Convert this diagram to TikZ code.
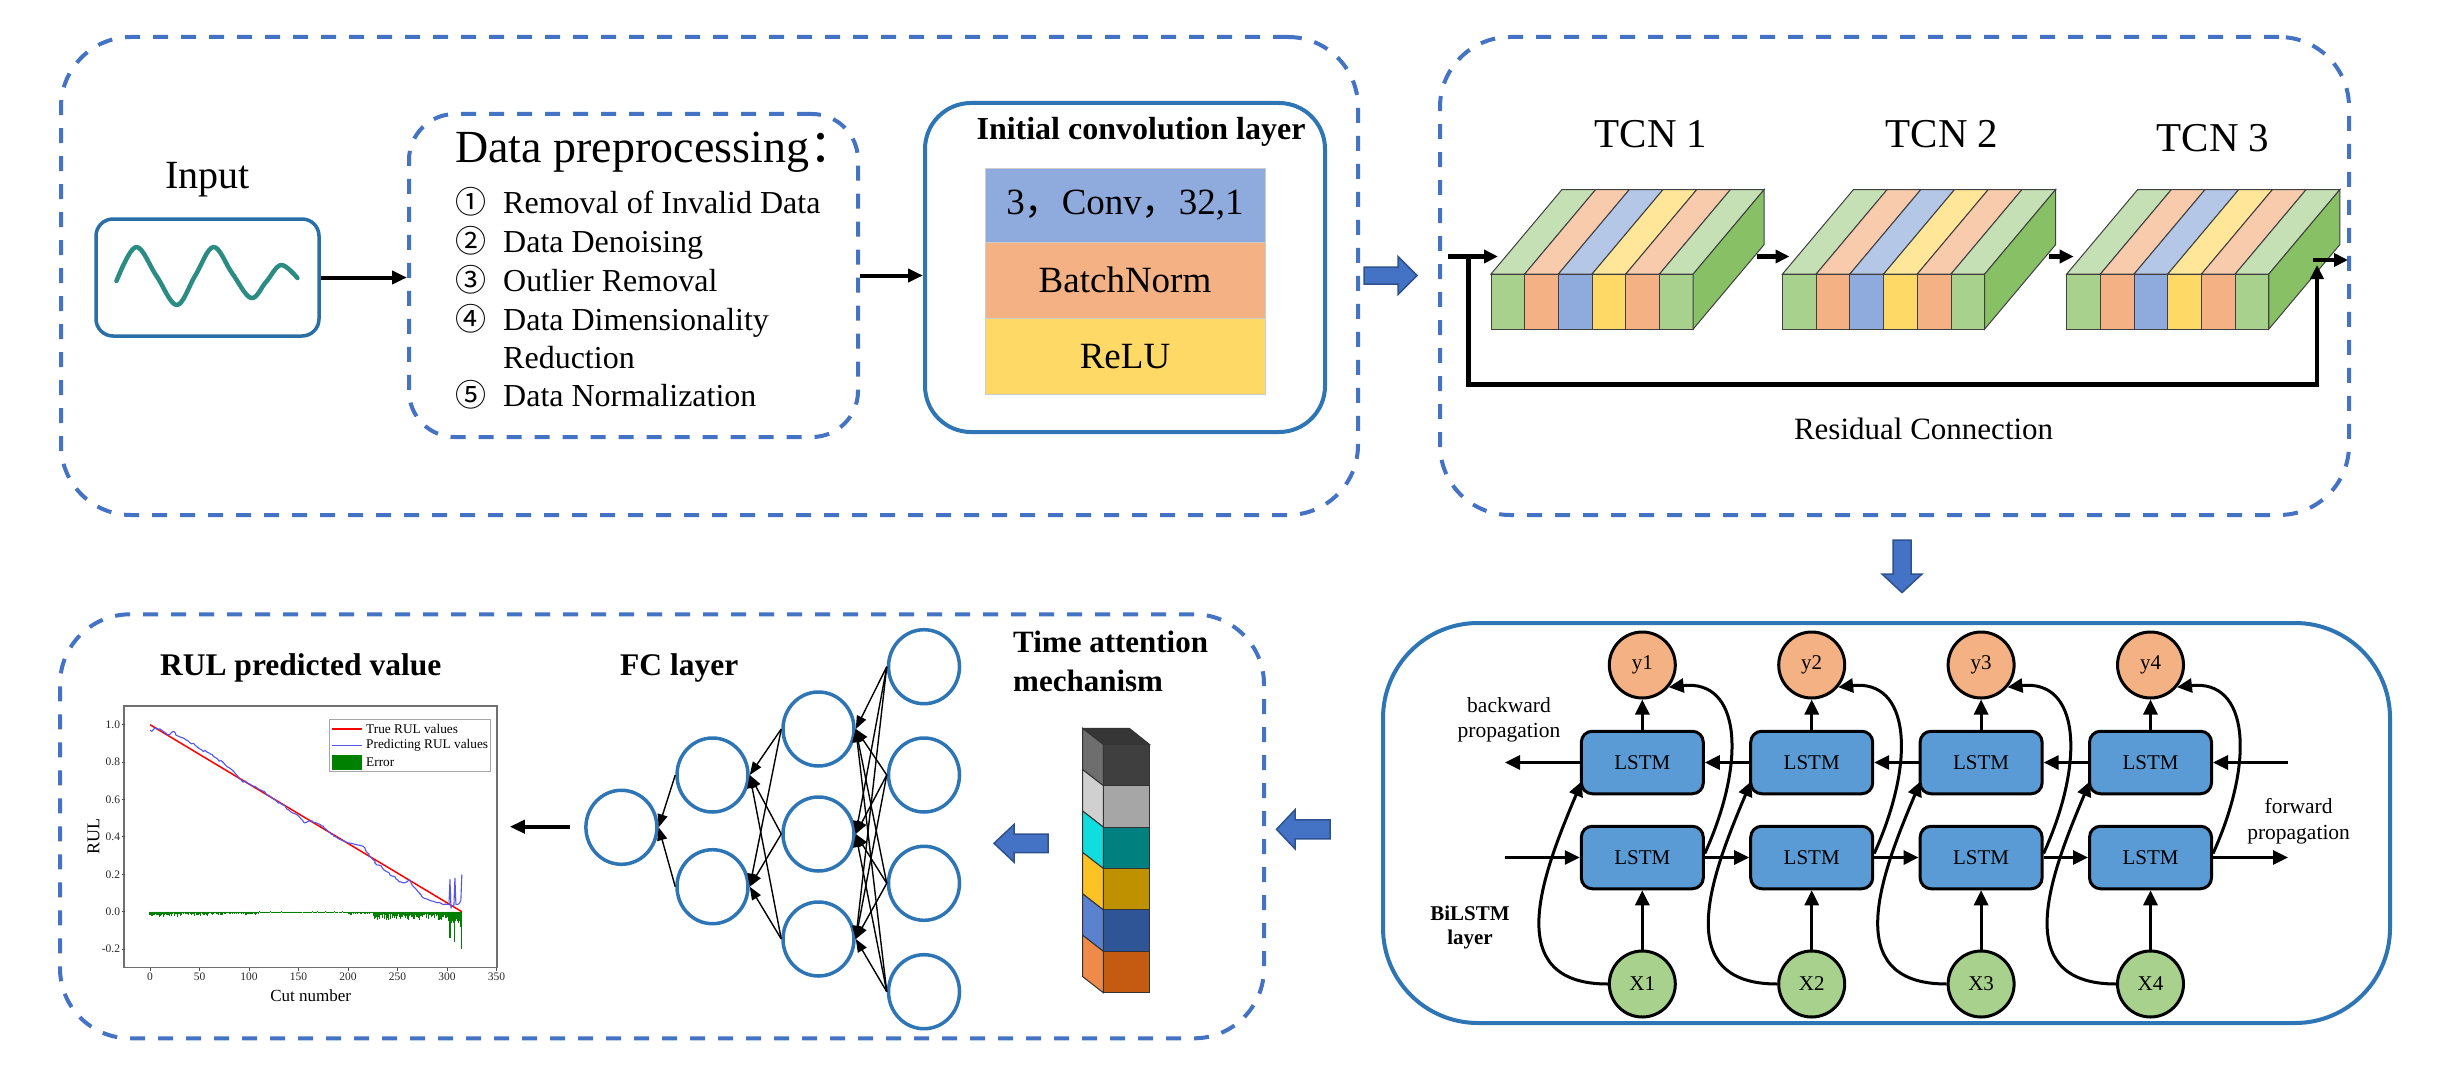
\documentclass[tikz,border=0pt]{standalone}
\usepackage{fontspec}
\setmainfont{Liberation Serif}
\newfontfamily\cjkfont{Noto Sans CJK SC}
\usetikzlibrary{arrows.meta,shapes.geometric,calc,decorations.pathmorphing}
\definecolor{dashblue}{HTML}{4472C4}
\definecolor{boxblue}{HTML}{2E75B6}
\definecolor{inpblue}{HTML}{2A6EA6}
\definecolor{wavecol}{HTML}{2A8C82}
\definecolor{blockfill}{HTML}{4472C4}
\definecolor{blockdraw}{HTML}{2F528F}
\definecolor{convblue}{HTML}{8FAADC}
\definecolor{convorange}{HTML}{F4B183}
\definecolor{convyellow}{HTML}{FFD966}
\definecolor{fgreen}{HTML}{A9D18E}
\definecolor{forange}{HTML}{F4B183}
\definecolor{fblue}{HTML}{8FAADC}
\definecolor{fyellow}{HTML}{FFD966}
\definecolor{tgreen}{HTML}{C5E0B4}
\definecolor{torange}{HTML}{F8CBAD}
\definecolor{tblue}{HTML}{B4C7E7}
\definecolor{tyellow}{HTML}{FFE699}
\definecolor{sgreen}{HTML}{88C065}
\definecolor{lstmblue}{HTML}{5B9BD5}
\definecolor{yorange}{HTML}{F4B183}
\definecolor{xgreen}{HTML}{A9D18E}
\definecolor{taAf}{HTML}{3F3F3F}
\definecolor{taAs}{HTML}{6E6E6E}
\definecolor{taBf}{HTML}{A6A6A6}
\definecolor{taBs}{HTML}{D0D0D0}
\definecolor{taCf}{HTML}{00807E}
\definecolor{taCs}{HTML}{10DEDE}
\definecolor{taDf}{HTML}{BF9000}
\definecolor{taDs}{HTML}{FDC324}
\definecolor{taEf}{HTML}{2F5597}
\definecolor{taEs}{HTML}{5B82D0}
\definecolor{taFf}{HTML}{C55A11}
\definecolor{taFs}{HTML}{F08A48}
\definecolor{tatop}{HTML}{363636}
\definecolor{predblue}{HTML}{5555EE}
\definecolor{errgreen}{HTML}{008000}
\definecolor{plotgray}{HTML}{707070}
\definecolor{edgegray}{HTML}{404040}
\newcommand{\fsz}[1]{\fontsize{#1}{#1}\selectfont}
\newcommand{\tcnblock}[2]{%
  \foreach \i/\cf/\ct in {0/fgreen/tgreen,1/forange/torange,2/fblue/tblue,3/fyellow/tyellow,4/forange/torange,5/fgreen/tgreen}{
    \filldraw[fill=\ct, draw=edgegray, line width=1pt] ({#1+\i*33.7},274) -- ++(33.7,0) -- ++(71,-84.5) -- ++(-33.7,0) -- cycle;
    \filldraw[fill=\cf, draw=edgegray, line width=1pt] ({#1+\i*33.7},274) rectangle ++(33.7,55);
  }
  \filldraw[fill=sgreen, draw=edgegray, line width=1pt] ({#1+202.2},274) -- ++(71,-84.5) -- ++(0,55) -- ++(-71,84.5) -- cycle;
  \coordinate (#2w) at ({#1+7},256.5);
  \coordinate (#2e) at ({#1+266},256.5);
}
\begin{document}
\begin{tikzpicture}[x=1pt,y=-1pt,
  txt/.style={inner sep=0pt},
  dashbox/.style={draw=dashblue, line width=4pt, dash pattern=on 15pt off 13pt},
  arr/.style={-{Triangle[length=15pt,width=13pt]}, line width=4pt},
  tarr/.style={-{Triangle[length=14pt,width=13pt]}, line width=4.5pt},
  larr/.style={-{Triangle[length=15pt,width=14pt]}, line width=3pt},
  fcarr/.style={-{Triangle[length=13pt,width=10pt]}, line width=1.4pt},
  blk/.style={fill=blockfill, draw=blockdraw, line width=1.5pt},
  lstm/.style={rectangle, rounded corners=11pt, fill=lstmblue, draw=black, line width=3pt, minimum width=122pt, minimum height=62.5pt, inner sep=0pt, font=\fsz{21}},
  ycirc/.style={circle, fill=yorange, draw=black, line width=3pt, minimum size=66pt, inner sep=0pt, font=\fsz{21}},
  xcirc/.style={ycirc, fill=xgreen},
  fcn/.style={ellipse, draw=boxblue, line width=3.5pt, minimum width=71pt, minimum height=74pt, inner sep=0pt},
  layer/.style={draw=black!20, line width=1pt, minimum width=280pt, inner sep=0pt, font=\fsz{37}},
  ]
\fill[white] (0,0) rectangle (2443,1089);
\useasboundingbox (0,0) rectangle (2443,1089);

% ---------------- Top-left panel ----------------
\node[dashbox, rounded corners=70pt, minimum width=1297pt, minimum height=478pt] (boxA) at (709.5,276) {};
\node[txt, anchor=base, font=\fsz{40}] (inlabel) at (207.8,188.7) {Input};
\node[draw=inpblue, line width=3.5pt, rounded corners=17pt, minimum width=223pt, minimum height=117pt] (inp) at (207.5,277.5) {};
\draw[wavecol, line width=4.5pt, line cap=round, line join=round] plot[smooth, tension=0.6] coordinates {(116.5,281) (136,247) (156.5,276) (176.8,305) (195,276) (213.5,247) (232,273) (251,298) (266,282) (281,265) (297.4,278)};

\node[dashbox, rounded corners=46pt, minimum width=449pt, minimum height=323pt] (prep) at (633.5,275.5) {};
\node[txt, anchor=base west, font=\fsz{46}] (preptitle) at (455,162) {Data preprocessing{\cjkfont ：}};
\node[txt, anchor=base, font=\fsz{31}\cjkfont] (n1) at (471,213) {①};
\node[txt, anchor=base west, font=\fsz{32}] (t1) at (503,213) {Removal of Invalid Data};
\node[txt, anchor=base, font=\fsz{31}\cjkfont] (n2) at (471,252) {②};
\node[txt, anchor=base west, font=\fsz{32}] (t2) at (503,252) {Data Denoising};
\node[txt, anchor=base, font=\fsz{31}\cjkfont] (n3) at (471,291) {③};
\node[txt, anchor=base west, font=\fsz{32}] (t3) at (503,291) {Outlier Removal};
\node[txt, anchor=base, font=\fsz{31}\cjkfont] (n4) at (471,330) {④};
\node[txt, anchor=base west, font=\fsz{32}] (t4) at (503,330) {Data Dimensionality};
\node[txt, anchor=base west, font=\fsz{32}] (t4b) at (503,368) {Reduction};
\node[txt, anchor=base, font=\fsz{31}\cjkfont] (n5) at (471,406) {⑤};
\node[txt, anchor=base west, font=\fsz{32}] (t5) at (503,406) {Data Normalization};

\node[draw=boxblue, line width=4pt, rounded corners=46pt, minimum width=400pt, minimum height=329pt] (conv) at (1125,267.5) {};
\node[txt, anchor=base, font=\fsz{32}\bfseries] (convtitle) at (1141,139.5) {Initial convolution layer};
\node[layer, fill=convblue, minimum height=74pt] (c1) at (1125,205) {3{\cjkfont ，}Conv{\cjkfont ，}32,1};
\node[layer, fill=convorange, minimum height=76.5pt] (c2) at (1125,280.25) {BatchNorm};
\node[layer, fill=convyellow, minimum height=75.5pt] (c3) at (1125,356.25) {ReLU};

\draw[arr] (inp.east) -- (inp.east -| prep.west);
\draw[arr] (prep.east) -- (prep.east -| conv.west);

\filldraw[blk] (1364,267) -- (1398,267) -- (1398,256.5) -- (1417,275.5) -- (1398,294.5) -- (1398,284) -- (1364,284) -- cycle;

% ---------------- TCN panel ----------------
\node[dashbox, rounded corners=70pt, minimum width=909pt, minimum height=478pt] (boxB) at (1894.5,276) {};
\node[txt, anchor=base, font=\fsz{41}] (tcn1) at (1651,147) {TCN 1};
\node[txt, anchor=base, font=\fsz{41}] (tcn2) at (1942,147) {TCN 2};
\node[txt, anchor=base, font=\fsz{41}] (tcn3) at (2213,151.5) {TCN 3};
\tcnblock{1491}{ba}
\tcnblock{1782.5}{bb}
\tcnblock{2066.7}{bc}
\coordinate (tin) at (1448,256.5);
\coordinate (rj) at (1468.5,256.5);
\coordinate (rb) at (1468.5,384.6);
\coordinate (rend) at (2317,265);
\coordinate (tout0) at (2313,260);
\coordinate (tout) at (2348,260);
\draw[tarr] (tin) -- (baw);
\draw[tarr] (bae) -- (bbw);
\draw[tarr] (bbe) -- (bcw);
\draw[tarr] (tout0) -- (tout);
\draw[tarr] (rj) -- (rb) -| (rend);
\node[txt, anchor=base, font=\fsz{31}] (resid) at (1923.6,439) {Residual Connection};

\filldraw[blk] (1893,540) -- (1911,540) -- (1911,574) -- (1922,574) -- (1902,592.6) -- (1882,574) -- (1893,574) -- cycle;

% ---------------- BiLSTM panel ----------------
\node[draw=boxblue, line width=4pt, rounded corners=95pt, minimum width=1007pt, minimum height=400pt] (boxD) at (1886.5,823) {};
\foreach \i in {1,2,3,4}{
  \pgfmathsetmacro\cx{1642.3+(\i-1)*169.4}
  \node[ycirc] (y\i) at (\cx,665) {y\i};
  \node[lstm] (T\i) at (\cx,762.5) {LSTM};
  \node[lstm] (B\i) at (\cx,857.5) {LSTM};
  \node[xcirc] (X\i) at (\cx,984) {X\i};
}
\foreach \i in {1,2,3,4}{
  \draw[larr] (X\i) -- (B\i);
  \draw[larr] (T\i) -- (y\i);
  \draw[larr] (X\i.west) .. controls +(-109,0) and +(-38,90) .. ($(T\i.south west)+(2,-14)$);
  \draw[larr] ($(B\i.east)+(0,-4)$) .. controls +(42,-93) and +(72,-8) .. (y\i.-40);
}
\foreach \i/\j in {1/2,2/3,3/4}{
  \draw[larr] (B\i.east) -- (B\j.west);
  \draw[larr] (T\j.west) -- (T\i.east);
}
\coordinate (fs) at (1505,857.5);
\coordinate (fe) at (2288,857.5);
\coordinate (bs) at (2288,762.5);
\coordinate (be) at (1505,762.5);
\draw[larr] (fs) -- (B1.west);
\draw[larr] (B4.east) -- (fe);
\draw[larr] (bs) -- (T4.east);
\draw[larr] (T1.west) -- (be);
\node[txt, anchor=base, font=\fsz{21.5}] (bw1) at (1509,712) {backward};
\node[txt, anchor=base, font=\fsz{21.5}] (bw2) at (1509,737.7) {propagation};
\node[txt, anchor=base, font=\fsz{21.5}] (fw1) at (2298.6,813.5) {forward};
\node[txt, anchor=base, font=\fsz{21.5}] (fw2) at (2298.6,839) {propagation};
\node[txt, anchor=base, font=\fsz{21}\bfseries] (bl1) at (1470,920) {BiLSTM};
\node[txt, anchor=base, font=\fsz{21}\bfseries] (bl2) at (1470,944.5) {layer};

\filldraw[blk] (1330,819.8) -- (1295,819.8) -- (1295,809.8) -- (1276.5,829.3) -- (1295,848.8) -- (1295,838.8) -- (1330,838.8) -- cycle;

% ---------------- Bottom-left panel ----------------
\node[dashbox, rounded corners=70pt, minimum width=1204pt, minimum height=424pt] (boxC) at (662,826.3) {};

% time attention
\node[txt, anchor=base west, font=\fsz{31}\bfseries] (ta1) at (1013,652.7) {Time attention};
\node[txt, anchor=base west, font=\fsz{31}\bfseries] (ta2) at (1013,691.7) {mechanism};
\foreach \k/\cf/\cs in {0/taAf/taAs,1/taBf/taBs,2/taCf/taCs,3/taDf/taDs,4/taEf/taEs,5/taFf/taFs}{
  \pgfmathsetmacro\ya{744.3+\k*41.4}
  \pgfmathsetmacro\yb{744.3+(\k+1)*41.4}
  \filldraw[fill=\cs, draw=black!80, line width=1pt] (1103.3,\ya) -- (1082.7,{\ya-16}) -- (1082.7,{\yb-16}) -- (1103.3,\yb) -- cycle;
  \filldraw[fill=\cf, draw=black!80, line width=1pt] (1103.3,\ya) rectangle (1149.3,\yb);
}
\filldraw[fill=tatop, draw=black!80, line width=1pt] (1103.3,744.3) -- (1082.7,728.3) -- (1129.3,728.3) -- (1149.3,744.3) -- cycle;

\filldraw[blk] (1048,834.1) -- (1014,834.1) -- (1014,824.5) -- (994,843.3) -- (1014,862.1) -- (1014,852.5) -- (1048,852.5) -- cycle;

% FC layer
\node[txt, anchor=base west, font=\fsz{31.5}\bfseries] (fctitle) at (620,675) {FC layer};
\node[fcn] (f1) at (621.4,827.3) {};
\node[fcn] (f2a) at (712.5,775) {};
\node[fcn] (f2b) at (712.5,886.7) {};
\node[fcn] (f3a) at (818.5,729) {};
\node[fcn] (f3b) at (818.5,834) {};
\node[fcn] (f3c) at (818.5,939) {};
\node[fcn] (f4a) at (924,666.7) {};
\node[fcn] (f4b) at (924,775) {};
\node[fcn] (f4c) at (924,883.3) {};
\node[fcn] (f4d) at (924,991.7) {};
\foreach \s in {f2a,f2b} \draw[fcarr] (\s.west) -- (f1.east);
\foreach \s in {f3a,f3b,f3c} {\foreach \t in {f2a,f2b} \draw[fcarr] (\s.west) -- (\t.east);}
\foreach \s in {f4a,f4b,f4c,f4d} {\foreach \t in {f3a,f3b,f3c} \draw[fcarr] (\s.west) -- (\t.east);}

% RUL plot
\node[txt, anchor=base, font=\fsz{31.5}\bfseries] (rultitle) at (300.7,675) {RUL predicted value};
\node[draw=plotgray, line width=1.5pt, minimum width=373pt, minimum height=261.7pt, inner sep=0pt] (pf) at (310.5,836.85) {};
\begin{scope}[shift={(150,911.7)}, x=0.99pt, y=187pt]
  \pgfmathsetseed{7}
  \foreach \u in {0,...,301}{
    \pgfmathsetmacro\h{0.004+0.012*rnd+(\u<60)*0.014*rnd+(\u>225)*0.035*rnd+(\u>110)*(\u<200)*(-0.006)}
    \draw[errgreen, line width=1.1pt] (\u,0) -- (\u,-\h);
  }
  \foreach \u/\h in {302/0.05,303/0.142,304/0.06,305/0.04,306/0.05,307/0.06,308/0.16,309/0.05,310/0.04,311/0.05,312/0.06,313/0.05,314/0.08,315/0.2}{
    \draw[errgreen, line width=1.1pt] (\u,0) -- (\u,-\h);
  }
  \draw[red, line width=1.5pt] (0,1) -- (315,0);
  \draw[predblue, line width=1.1pt, line join=round, decorate, decoration={random steps, segment length=2.2pt, amplitude=1.1pt}] plot coordinates {
    (0,0.970) (2,0.965) (4,0.978) (6,0.982) (8,0.976) (10,0.978) (12,0.970) (14,0.962) (16,0.955) (18,0.946)
    (20,0.948) (22,0.960) (24,0.965) (26,0.945) (28,0.940) (30,0.935) (33,0.930) (36,0.920) (38,0.915) (40,0.905)
    (42,0.898) (44,0.900) (46,0.888) (48,0.880) (50,0.872) (52,0.866) (54,0.857) (56,0.862) (58,0.852) (60,0.848)
    (63,0.840) (66,0.825) (68,0.818) (70,0.805) (72,0.808) (74,0.798) (76,0.785) (78,0.775) (80,0.770) (82,0.762)
    (84,0.753) (86,0.740) (88,0.728) (90,0.712) (92,0.705) (94,0.692) (96,0.700) (98,0.688) (100,0.685) (102,0.678)
    (104,0.672) (106,0.670) (108,0.662) (110,0.655) (112,0.650) (114,0.645) (117,0.632) (120,0.622) (123,0.610) (126,0.600)
    (128,0.591) (131,0.583) (134,0.572) (137,0.560) (140,0.545) (142,0.535) (144,0.528) (146,0.525) (148,0.520) (150,0.512)
    (152,0.500) (154,0.488) (156,0.475) (158,0.478) (160,0.484) (162,0.486) (165,0.478) (168,0.475) (170,0.470) (173,0.458)
    (176,0.448) (178,0.440) (180,0.430) (182,0.422) (185,0.412) (188,0.400) (190,0.392) (192,0.386) (195,0.380) (198,0.372)
    (200,0.368) (203,0.366) (206,0.362) (209,0.358) (212,0.355) (215,0.350) (217,0.342) (219,0.318) (221,0.300) (223,0.292)
    (225,0.280) (227,0.262) (229,0.251) (232,0.248) (235,0.232) (238,0.218) (240,0.212) (242,0.205) (245,0.190) (248,0.178)
    (250,0.170) (253,0.160) (256,0.154) (258,0.156) (260,0.162) (262,0.172) (264,0.150) (266,0.135) (268,0.125) (270,0.112)
    (272,0.100) (274,0.085) (276,0.074) (278,0.070) (280,0.068) (282,0.062) (284,0.058) (286,0.056) (288,0.052) (290,0.048)
    (292,0.050) (294,0.045) (296,0.038) (298,0.040) (300,0.040) (302,0.038)};
  \draw[predblue, line width=1.1pt, line join=round] plot coordinates {(302,0.038) (303,0.172) (304,0.020) (305,0.030) (307,0.035)
    (308,0.180) (309,0.040) (310,0.038) (312,0.042) (313,0.050) (314,0.060) (315,0.200)};
  \foreach \v/\t [count=\k] in {1.0/1.0,0.8/0.8,0.6/0.6,0.4/0.4,0.2/0.2,0.0/0.0,-0.2/-0.2}{
    \draw[black!70, line width=1pt] (-25.3,\v) -- (-28.5,\v);
    \node[txt, anchor=east, font=\fsz{11.5}, text=black!85] (ytl\k) at (-30,\v) {\t};
  }
  \foreach \u [count=\k] in {0,50,...,350}{
    \draw[black!70, line width=1pt] (\u,-0.3) -- (\u,-0.318);
    \node[txt, font=\fsz{11.5}, text=black!85] (xtl\k) at (\u,-0.349) {\u};
  }
\end{scope}
\node[txt, font=\fsz{17}] (xlab) at (310.7,996) {Cut number};
\node[txt, font=\fsz{18}, rotate=90] (ylab) at (93.6,836.7) {RUL};
\node[draw=black!35, fill=white, line width=1pt, minimum width=160.7pt, minimum height=52.5pt, inner sep=0pt] (leg) at (409.65,745.65) {};
\draw[red, line width=1.5pt] (331.7,729) -- (361.7,729);
\draw[predblue, line width=1.2pt] (331.7,745.7) -- (361.7,745.7);
\fill[errgreen] (331.7,755) rectangle (361.7,770);
\node[txt, anchor=west, font=\fsz{13.3}] (lg1) at (366,729) {True RUL values};
\node[txt, anchor=west, font=\fsz{13.3}] (lg2) at (366,745.7) {Predicting RUL values};
\node[txt, anchor=west, font=\fsz{13.3}] (lg3) at (366,762.3) {Error};

\coordinate (ra) at (569.5,826.7);
\draw[arr, shorten >=12pt] (ra) -- (ra -| pf.east);
\end{tikzpicture}
\end{document}
